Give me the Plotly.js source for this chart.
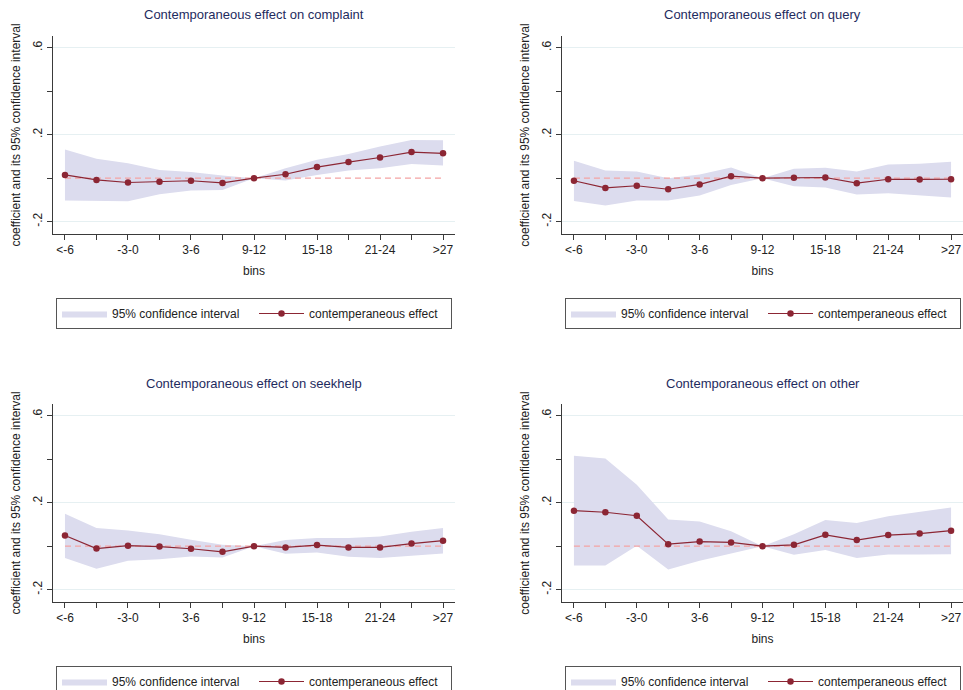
<!DOCTYPE html>
<html>
<head>
<meta charset="utf-8">
<script src="https://cdn.plot.ly/plotly-3.0.1.min.js"></script>
<style>html,body{margin:0;padding:0;background:#fff;}#chart{width:963px;height:690px;}</style>
</head>
<body>
<div id="chart"></div>
<script>
// Bins (categories) and shown tick labels
const bins = ["<-6","-6--3","-3-0","0-3","3-6","6-9","9-12","12-15","15-18","18-21","21-24","24-27",">27"];
const binLabels = ["<-6","","-3-0","","3-6","","9-12","","15-18","","21-24","",">27"];

const panelTitles = ["Contemporaneous effect on complaint","Contemporaneous effect on query","Contemporaneous effect on seekhelp","Contemporaneous effect on other"];

// complaint
const complaintEff = [0.015,-0.008,-0.020,-0.017,-0.012,-0.022,0,0.018,0.051,0.074,0.095,0.120,0.114];
const complaintHi  = [0.132,0.089,0.069,0.038,0.028,0.012,0,0.046,0.085,0.111,0.146,0.175,0.174];
const complaintLo  = [-0.103,-0.103,-0.106,-0.074,-0.057,-0.054,0,-0.011,0.015,0.035,0.046,0.065,0.058];
// query
const queryEff = [-0.012,-0.045,-0.035,-0.051,-0.029,0.009,0,0.002,0.003,-0.023,-0.005,-0.006,-0.005];
const queryHi  = [0.080,0.035,0.031,0.000,0.017,0.049,0,0.043,0.048,0.031,0.063,0.066,0.075];
const queryLo  = [-0.105,-0.126,-0.103,-0.103,-0.080,-0.031,0,-0.037,-0.043,-0.075,-0.069,-0.078,-0.089];
// seekhelp
const seekEff = [0.049,-0.011,0.002,-0.002,-0.012,-0.026,0,-0.006,0.005,-0.006,-0.006,0.012,0.025];
const seekHi  = [0.149,0.084,0.072,0.055,0.029,0.006,0,0.028,0.038,0.037,0.044,0.066,0.084];
const seekLo  = [-0.055,-0.104,-0.067,-0.060,-0.048,-0.052,0,-0.035,-0.029,-0.049,-0.054,-0.043,-0.034];
// other
const otherEff = [0.163,0.156,0.140,0.009,0.021,0.017,0,0.006,0.052,0.028,0.051,0.058,0.071];
const otherHi  = [0.416,0.403,0.282,0.123,0.113,0.069,0,0.055,0.120,0.106,0.137,0.156,0.178];
const otherLo  = [-0.089,-0.089,0.002,-0.107,-0.067,-0.035,0,-0.040,-0.018,-0.054,-0.038,-0.038,-0.037];

const yTickVals = [-0.2,0.2,0.6];
const yTickText = ["-.2",".2",".6"];
const yMinorVals = [0,0.4];

const seriesEff = [complaintEff,queryEff,seekEff,otherEff];
const seriesHi = [complaintHi,queryHi,seekHi,otherHi];
const seriesLo = [complaintLo,queryLo,seekLo,otherLo];

const W = 963, H = 690;
const FONT = "Liberation Sans, Arial, sans-serif";
const bandColor = "#dcdcee";
const lineColor = "#8c2634";
const zeroColor = "#f4a3a3";
const axisColor = "#3a3a3a";

// panel geometry in px: [left, right, top, bottom]
const panels = [
  [53, 455, 36, 234],
  [562, 963, 36, 234],
  [53, 455, 404, 602],
  [562, 963, 404, 602]
];
const legendPos = [[56,298],[565,298],[56,666],[565,666]];

const traces = [];
const layout = {
  width: W, height: H,
  margin: {l:0,r:0,t:0,b:0,pad:0,autoexpand:false},
  paper_bgcolor: "#fff", plot_bgcolor: "#fff",
  font: {family: FONT, size: 12, color: "#222"},
  annotations: [], showlegend: true
};

for (let i = 0; i < 4; i++) {
  const n = i === 0 ? "" : String(i+1);
  const xa = "x" + n, ya = "y" + n;
  const leg = "legend" + n;
  traces.push({x: bins, y: seriesLo[i], xaxis: xa, yaxis: ya, type: "scatter", mode: "lines",
    line: {width: 0, color: bandColor}, showlegend: false, hoverinfo: "skip", legend: leg});
  traces.push({x: bins, y: seriesHi[i], xaxis: xa, yaxis: ya, type: "scatter", mode: "lines",
    fill: "tonexty", fillcolor: bandColor, line: {width: 0, color: bandColor},
    name: "95% confidence interval", legend: leg});
  traces.push({x: bins, y: bins.map(() => 0), xaxis: xa, yaxis: ya, type: "scatter", mode: "lines",
    line: {width: 1.2, color: zeroColor, dash: "6px,4px"}, showlegend: false, hoverinfo: "skip", legend: leg});
  traces.push({x: bins, y: seriesEff[i], xaxis: xa, yaxis: ya, type: "scatter", mode: "lines+markers",
    line: {width: 1.2, color: lineColor}, marker: {size: 6.5, color: lineColor},
    name: "contemperaneous effect", legend: leg});

  const p = panels[i];
  layout["xaxis" + n] = {
    domain: [p[0]/W, Math.min(1, p[1]/W)], anchor: ya,
    type: "category", range: [-0.38, 12.38],
    tickmode: "array", tickvals: bins, ticktext: binLabels,
    ticks: "outside", ticklen: 5, tickcolor: axisColor,
    showline: true, linecolor: axisColor, linewidth: 1, showgrid: false, zeroline: false,
    tickfont: {family: FONT, size: 12, color: "#222"},
    title: {text: "bins", font: {family: FONT, size: 12, color: "#222"}, standoff: 10}
  };
  layout["yaxis" + n] = {
    domain: [1 - p[3]/H, 1 - p[2]/H], anchor: xa,
    range: [-0.257, 0.654],
    tickmode: "array", tickvals: yTickVals, ticktext: yTickText, tickangle: -90,
    ticks: "outside", ticklen: 5, tickcolor: axisColor,
    minor: {tickmode: "array", tickvals: yMinorVals, ticks: "outside", ticklen: 5, tickcolor: axisColor, showgrid: false},
    showline: true, linecolor: axisColor, linewidth: 1,
    showgrid: true, gridcolor: "#e6f0f2", gridwidth: 1, zeroline: false,
    tickfont: {family: FONT, size: 12, color: "#222"},
    title: {text: "coefficient and its 95% confidence interval", font: {family: FONT, size: 12, color: "#222"}, standoff: 8}
  };
  layout.annotations.push({
    text: panelTitles[i], xref: "paper", yref: "paper",
    x: ((p[0] + Math.min(p[1], 964)) / 2) / W, y: 1 - (p[2] - 21) / H,
    xanchor: "center", yanchor: "middle", showarrow: false,
    font: {family: FONT, size: 13, color: "#1e2b5e"}
  });
  const lp = legendPos[i];
  layout[leg] = {
    x: lp[0]/W, y: 1 - lp[1]/H, xanchor: "left", yanchor: "top",
    orientation: "h", traceorder: "normal", bordercolor: "#555", borderwidth: 1, bgcolor: "#fff",
    font: {family: FONT, size: 12, color: "#222"},
    entrywidth: 137, entrywidthmode: "pixels", itemwidth: 45, tracegroupgap: 0
  };
}

Plotly.newPlot("chart", traces, layout, {staticPlot: true, displayModeBar: false});
</script>
</body>
</html>
